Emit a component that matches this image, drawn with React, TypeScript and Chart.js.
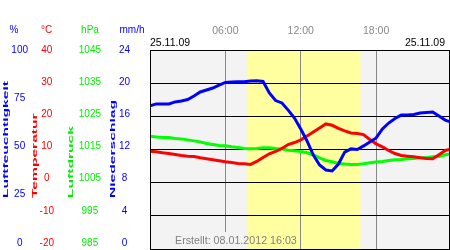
import { useEffect, useRef } from "react";
import { Chart, registerables } from "chart.js";

Chart.register(...registerables);

const hours = [0, 0.5, 1, 1.5, 2, 2.5, 3, 3.5, 4, 4.5, 5, 5.5, 6, 6.5, 7, 7.5, 8, 8.5, 9, 9.5, 10, 10.5, 11, 11.5, 12, 12.5, 13, 13.5, 14, 14.5, 15, 15.5, 16, 16.5, 17, 17.5, 18, 18.5, 19, 19.5, 20, 20.5, 21, 21.5, 22, 22.5, 23, 23.5, 24];
const humidity = [72.0, 72.9, 72.9, 72.9, 73.9, 74.4, 75.1, 76.9, 78.9, 79.9, 80.9, 82.4, 83.7, 83.9, 84.1, 84.1, 84.4, 84.6, 84.2, 78.4, 74.6, 73.4, 69.8, 65.8, 60.3, 54.3, 47.2, 42.2, 39.7, 39.2, 42.7, 48.7, 50.3, 50.0, 51.8, 53.8, 55.8, 60.3, 63.3, 65.6, 67.3, 67.3, 67.6, 68.3, 68.6, 68.8, 66.8, 64.8, 63.6];
const temperature = [9.5, 9.3, 9.0, 8.8, 8.5, 8.2, 8.0, 7.9, 7.5, 7.2, 6.9, 6.6, 6.3, 6.1, 5.8, 5.7, 5.5, 6.4, 7.6, 8.7, 9.4, 10.3, 11.5, 12.1, 12.9, 14.1, 15.3, 16.5, 17.7, 17.3, 16.4, 15.6, 15.0, 14.8, 14.5, 13.0, 11.7, 10.8, 9.7, 8.8, 8.2, 8.0, 7.8, 7.5, 7.3, 7.2, 8.4, 9.7, 10.2];
const pressure = [1019.0, 1018.8, 1018.6, 1018.6, 1018.3, 1018.2, 1017.9, 1017.6, 1017.3, 1016.8, 1016.5, 1016.2, 1016.1, 1015.8, 1015.6, 1015.3, 1015.2, 1015.3, 1015.5, 1015.5, 1015.3, 1015.2, 1014.8, 1014.6, 1014.4, 1014.0, 1013.4, 1012.5, 1011.7, 1011.3, 1010.8, 1010.6, 1010.5, 1010.5, 1010.7, 1011.0, 1011.2, 1011.4, 1011.7, 1011.9, 1012.0, 1012.2, 1012.3, 1012.5, 1012.5, 1012.8, 1012.9, 1013.4, 1013.7];

const humTicks = [0, 25, 50, 75, 100];
const tempTicks = [-20, -10, 0, 10, 20, 30, 40];
const pressTicks = [985, 995, 1005, 1015, 1025, 1035, 1045];
const rainTicks = [0, 4, 8, 12, 16, 20, 24];
const timeTicks = [6, 12, 18];
const timeLabels = ["06:00", "12:00", "18:00"];
const daylight = [7.7, 16.75];
const dateLabel = "25.11.09";
const createdLabel = "Erstellt: 08.01.2012 16:03";

const FONT = "'Liberation Sans', Arial, sans-serif";
const BLUE = "#0000ff";
const RED = "#ff0000";
const GREEN = "#00ee00";
const LABEL_SPAN = 0.9698;

function fixWidth(width: number) {
  return (s: any) => {
    s.width = width;
    s.paddingTop = 0;
    s.paddingBottom = 0;
  };
}

function labelAxis(values: number[], color: string, weight: number, width: number) {
  const min = values[0];
  const max = values[values.length - 1];
  return {
    type: "linear",
    position: "left",
    weight,
    min: max - (max - min) / LABEL_SPAN,
    max,
    grid: { display: false, drawTicks: false },
    border: { display: false },
    ticks: {
      color,
      padding: 0,
      crossAlign: "center",
      autoSkip: false,
      font: { size: 10, family: FONT },
      callback: (v: number) => String(v),
    },
    afterBuildTicks: (s: any) => {
      s.ticks = values.map((v) => ({ value: v }));
    },
    afterFit: fixWidth(width),
  };
}

const decor = {
  id: "decor",
  beforeDraw(chart: any) {
    const { ctx, chartArea: a, scales } = chart;
    const x = scales.x;
    ctx.save();
    ctx.fillStyle = "#f3f3f3";
    ctx.fillRect(a.left, a.top, a.right - a.left, a.bottom - a.top);
    const x0 = x.getPixelForValue(daylight[0]);
    const x1 = x.getPixelForValue(daylight[1]);
    ctx.fillStyle = "#ffffa0";
    ctx.fillRect(x0, a.top, x1 - x0, a.bottom - a.top);
    ctx.restore();
  },
  afterDraw(chart: any) {
    const { ctx, chartArea: a, scales } = chart;
    const x = scales.x;
    ctx.save();
    const x0 = x.getPixelForValue(daylight[0]);
    ctx.fillStyle = "#f3f3f3";
    ctx.fillRect(a.left + 20, 232, x0 - a.left - 20, a.bottom - 232);
    ctx.fillStyle = "#808080";
    ctx.font = `10.7px ${FONT}`;
    ctx.textAlign = "left";
    ctx.textBaseline = "middle";
    ctx.fillText(createdLabel, 175, 241);
    ctx.strokeStyle = "#000";
    ctx.lineWidth = 1;
    ctx.strokeRect(a.left + 0.5, a.top + 0.5, a.right - a.left, a.bottom - a.top);
    ctx.fillStyle = "#000";
    ctx.font = `10.5px ${FONT}`;
    ctx.textAlign = "left";
    ctx.fillText(dateLabel, a.left, 43.5);
    ctx.textAlign = "right";
    ctx.fillText(dateLabel, a.right - 4, 43.5);
    ctx.font = `10px ${FONT}`;
    ctx.textAlign = "center";
    const units: [string, string, number][] = [
      ["%", BLUE, 14],
      ["°C", RED, 46.5],
      ["hPa", GREEN, 90],
      ["mm/h", BLUE, 132],
    ];
    for (const [t, c, px] of units) {
      ctx.fillStyle = c;
      ctx.fillText(t, px, 30);
    }
    const titles: [string, string, number][] = [
      ["Luftfeuchtigkeit", BLUE, 8.4],
      ["Temperatur", RED, 37.4],
      ["Luftdruck", GREEN, 73],
      ["Niederschlag", BLUE, 115],
    ];
    ctx.font = `bold 8px ${FONT}`;
    ctx.textAlign = "left";
    ctx.textBaseline = "alphabetic";
    for (const [t, c, px] of titles) {
      ctx.save();
      ctx.translate(px, 198);
      ctx.rotate(-Math.PI / 2);
      ctx.scale(1.95, 1);
      ctx.fillStyle = c;
      ctx.fillText(t, 0, 0);
      ctx.restore();
    }
    ctx.restore();
  },
};

export default function App() {
  const ref = useRef<HTMLCanvasElement>(null);
  useEffect(() => {
    if (!ref.current) return;
    const pts = (arr: number[]) => arr.map((v, i) => ({ x: hours[i], y: v }));
    const chart = new Chart(ref.current, {
      type: "line",
      data: {
        datasets: [
          { data: pts(humidity), yAxisID: "yHum", xAxisID: "x", borderColor: BLUE, borderWidth: 3, pointRadius: 0, tension: 0 },
          { data: pts(temperature), yAxisID: "yTemp", xAxisID: "x", borderColor: RED, borderWidth: 3, pointRadius: 0, tension: 0 },
          { data: pts(pressure), yAxisID: "yP", xAxisID: "x", borderColor: "#00ff00", borderWidth: 3, pointRadius: 0, tension: 0 },
        ],
      },
      options: {
        animation: false,
        responsive: false,
        maintainAspectRatio: false,
        events: [],
        layout: { padding: { top: 0, left: 0, right: 1, bottom: 1 }, autoPadding: false },
        plugins: { legend: { display: false }, tooltip: { enabled: false } },
        scales: {
          x: {
            type: "linear",
            position: "top",
            min: 0,
            max: 23.8,
            grid: { color: "#888888", drawTicks: false },
            border: { display: false },
            ticks: {
              color: "#888888",
              padding: 13,
              autoSkip: false,
              maxRotation: 0,
              font: { size: 10.5, family: FONT },
              callback: (v: number) => timeLabels[timeTicks.indexOf(v)] ?? "",
            },
            afterBuildTicks: (s: any) => {
              s.ticks = timeTicks.map((v) => ({ value: v }));
            },
            afterFit: (s: any) => {
              s.height = 50;
              s.paddingLeft = 0;
              s.paddingRight = 0;
            },
          },
          lHum: labelAxis(humTicks, BLUE, 5, 28),
          lTemp: labelAxis(tempTicks, RED, 4, 26),
          lP: labelAxis(pressTicks, GREEN, 3, 47),
          lRain: labelAxis(rainTicks, BLUE, 2, 29),
          yP: {
            type: "linear",
            position: "left",
            weight: 1,
            min: 985,
            max: 1045,
            grid: { color: "#000000", drawTicks: false },
            border: { display: false },
            ticks: { display: false, stepSize: 10, padding: 0 },
            afterFit: fixWidth(20),
          },
          yHum: {
            type: "linear",
            position: "left",
            display: false,
            min: 0,
            max: 100,
            grid: { drawTicks: false },
            afterFit: fixWidth(0),
          },
          yTemp: {
            type: "linear",
            position: "left",
            display: false,
            min: -20,
            max: 40,
            grid: { drawTicks: false },
            afterFit: fixWidth(0),
          },
        } as any,
      },
      plugins: [decor],
    });
    return () => chart.destroy();
  }, []);
  return (
    <div style={{ position: "fixed", left: 0, top: 0, width: 450, height: 250 }}>
      <canvas ref={ref} width={450} height={250} style={{ display: "block" }} />
    </div>
  );
}
